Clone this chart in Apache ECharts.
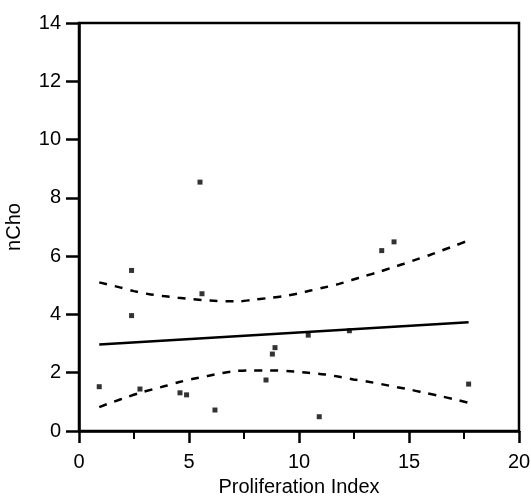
<!DOCTYPE html>
<html>
<head>
<meta charset="utf-8">
<script src="https://cdn.jsdelivr.net/npm/echarts@6/dist/echarts.min.js"></script>
<style>html,body{margin:0;padding:0;background:#fff}#c{width:531px;height:497px}</style>
</head>
<body>
<div id="c"></div>
<script>
// Scatter points (Proliferation Index, nCho)
const pointsX = [0.92, 2.39, 2.39, 2.77, 4.59, 4.89, 5.50, 5.59, 6.18, 8.50, 8.79, 8.91, 10.42, 10.92, 12.29, 13.76, 14.32, 17.71];
const pointsY = [1.52, 5.51, 3.96, 1.44, 1.31, 1.24, 8.54, 4.71, 0.72, 1.75, 2.64, 2.86, 3.29, 0.49, 3.44, 6.19, 6.49, 1.61];

// Regression fit line
const fitX = [0.92, 17.71];
const fitY = [2.97, 3.73];

// Upper confidence curve
const upperX = [0.92, 1.9, 2.5, 3.15, 3.83, 4.51, 5.2, 5.95, 6.7, 7.24, 7.88, 8.58, 9.26, 9.92, 10.53, 11.18, 11.79, 12.4, 13.0, 13.6, 14.2, 14.74, 15.35, 15.95, 16.51, 17.09, 17.71];
const upperY = [5.10, 4.92, 4.80, 4.70, 4.63, 4.57, 4.52, 4.48, 4.45, 4.45, 4.50, 4.56, 4.62, 4.71, 4.82, 4.93, 5.04, 5.18, 5.32, 5.45, 5.60, 5.73, 5.89, 6.04, 6.20, 6.36, 6.54];

// Lower confidence curve
const lowerX = [0.92, 1.56, 2.17, 2.77, 3.35, 3.95, 4.56, 5.2, 5.85, 6.53, 7.17, 7.92, 8.65, 9.77, 10.42, 11.18, 11.83, 12.47, 13.15, 13.8, 14.47, 15.12, 15.77, 16.41, 17.05, 17.71];
const lowerY = [0.82, 1.00, 1.16, 1.31, 1.43, 1.55, 1.68, 1.79, 1.89, 1.99, 2.06, 2.08, 2.08, 2.04, 2.00, 1.94, 1.86, 1.77, 1.69, 1.60, 1.50, 1.41, 1.30, 1.20, 1.09, 0.97];

const xTicks = [0, 5, 10, 15, 20];
const yTicks = [0, 2, 4, 6, 8, 10, 12, 14];

const zip = (xs, ys) => xs.map((x, i) => [x, ys[i]]);
const FONT = 'Liberation Sans';

const chart = echarts.init(document.getElementById('c'));
chart.setOption({
  animation: false,
  backgroundColor: '#fff',
  grid: {
    left: 79, top: 23, right: 12, bottom: 66, containLabel: false, outerBoundsMode: 'none',
    show: true, borderColor: '#000', borderWidth: 2.5, backgroundColor: 'transparent'
  },
  xAxis: {
    type: 'value', min: xTicks[0], max: xTicks[xTicks.length - 1], interval: 5,
    name: 'Proliferation Index', nameLocation: 'middle', nameGap: 46,
    nameTextStyle: { fontFamily: FONT, fontSize: 20, color: '#000' },
    axisLine: { show: true, onZero: false, lineStyle: { color: '#000', width: 2.5 } },
    axisTick: { show: true, inside: false, length: 12, lineStyle: { color: '#000', width: 2.5 } },
    minorTick: { show: true, splitNumber: 2, length: 8, lineStyle: { color: '#000', width: 2 } },
    axisLabel: { fontFamily: FONT, fontSize: 20, color: '#000', margin: 21 },
    splitLine: { show: false }
  },
  yAxis: {
    type: 'value', min: yTicks[0], max: yTicks[yTicks.length - 1], interval: 2,
    name: 'nCho', nameLocation: 'middle', nameGap: 55,
    nameTextStyle: { fontFamily: FONT, fontSize: 20, color: '#000' },
    axisLine: { show: true, onZero: false, lineStyle: { color: '#000', width: 2.5 } },
    axisTick: { show: true, inside: false, length: 13, lineStyle: { color: '#000', width: 2.5 } },
    axisLabel: { fontFamily: FONT, fontSize: 20, color: '#000', margin: 18 },
    splitLine: { show: false }
  },
  series: [
    {
      type: 'line', data: zip(upperX, upperY), smooth: 0.3, showSymbol: false,
      lineStyle: { color: '#000', width: 2.5, type: [8, 8] }
    },
    {
      type: 'line', data: zip(lowerX, lowerY), smooth: 0.3, showSymbol: false,
      lineStyle: { color: '#000', width: 2.5, type: [8, 8] }
    },
    {
      type: 'line', data: zip(fitX, fitY), showSymbol: false,
      lineStyle: { color: '#000', width: 2.5 }
    },
    {
      type: 'scatter', data: zip(pointsX, pointsY), symbol: 'rect', symbolSize: 5,
      itemStyle: { color: '#000' }
    }
  ]
});
</script>
</body>
</html>
